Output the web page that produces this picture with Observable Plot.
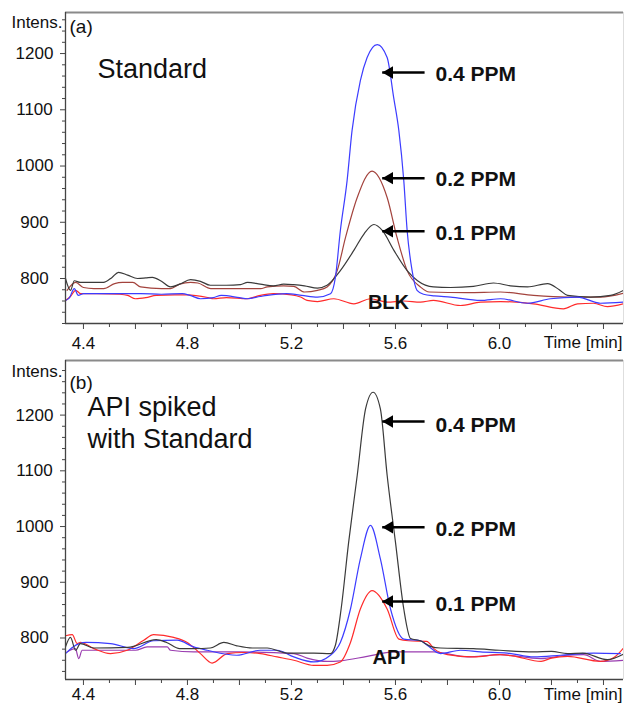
<!DOCTYPE html>
<html>
<head>
<meta charset="utf-8">
<script src="https://cdn.jsdelivr.net/npm/d3@7"></script>
<script src="https://cdn.jsdelivr.net/npm/@observablehq/plot@0.6"></script>
<style>
  html, body { margin: 0; padding: 0; background: #fff; }
  #chart { width: 625px; height: 705px; overflow: hidden; }
  #chart svg { display: block; }
</style>
</head>
<body>
<div id="chart"></div>
<script>
// ---------- Panel (a): Standard ----------
const a_t_blk = [4.331,4.35,4.37,4.39,4.45,4.54,4.57,4.60,4.64,4.68,4.75,4.80,4.88,4.90,4.95,5.03,5.08,5.13,5.20,5.235,5.26,5.30,5.363,5.44,5.504,5.568,5.632,5.696,5.746,5.85,5.927,6.004,6.131,6.246,6.30,6.362,6.415,6.477];
const a_v_blk = [761,768,779,773,773,772,770,764,766,770,771,771,766,764,766,764,770,773,771,767,761,759,764,755,764,758,760,758,761,752,758,759,755,746,755,756,750,755];

const a_t_01 = [4.331,4.35,4.365,4.388,4.438,4.477,4.51,4.535,4.57,4.608,4.64,4.665,4.70,4.735,4.77,4.812,4.85,4.888,4.95,5.004,5.031,5.08,5.131,5.17,5.208,5.25,5.30,5.337,5.388,5.44,5.48,5.517,5.55,5.594,5.645,5.685,5.746,5.812,5.9,5.977,6.042,6.108,6.185,6.23,6.262,6.35,6.427,6.477];
const a_v_01 = [800,779,796,793,793,793,802,811,806,800,801,802,795,785,790,798,795,788,788,789,793,790,787,790,789,787,783,788,814,850,880,896,885,850,814,796,785,784,786,792,787,785,791,780,770,767,770,779];

const a_t_02 = [4.337,4.37,4.40,4.44,4.478,4.52,4.55,4.59,4.62,4.70,4.735,4.77,4.812,4.84,4.89,5.004,5.081,5.107,5.17,5.209,5.25,5.30,5.337,5.376,5.408,5.453,5.51,5.568,5.606,5.645,5.696,5.73,5.877,6.004,6.131,6.262,6.388,6.477];
const a_v_02 = [779,793,784,782,782,791,793,793,785,782,782,790,793,792,782,782,782,785,787,786,776,779,785,814,873,944,991,944,873,814,785,776,775,776,770,767,767,774];

const a_t_04 = [4.331,4.345,4.365,4.38,4.40,4.45,4.55,4.62,4.70,4.78,4.81,4.85,4.90,4.93,5.00,5.03,5.08,5.107,5.18,5.24,5.30,5.35,5.369,5.388,5.414,5.433,5.465,5.491,5.53,5.568,5.593,5.613,5.632,5.645,5.664,5.683,5.708,5.75,5.812,5.927,6.004,6.108,6.196,6.3,6.388,6.477];
const a_v_04 = [761,765,782,770,773,773,773,773,772,773,770,764,766,770,766,764,768,770,773,770,767,773,802,885,974,1063,1152,1193,1216,1193,1122,1063,974,885,814,779,772,769,767,761,764,756,764,767,756,758];

// ---------- Panel (b): API spiked with Standard ----------
const b_t_api = [4.337,4.369,4.382,4.395,4.45,4.6,4.645,4.722,4.735,4.824,5.0,5.209,5.26,5.337,5.388,5.491,5.593,5.747,5.876,6.004,6.158,6.26,6.324,6.388,6.477];
const b_v_api = [775,781,763,778,778,778,784,784,778,775,775,772,764,758,759,767,775,775,766,770,763,769,770,758,760];

const b_t_01 = [4.331,4.357,4.376,4.388,4.44,4.504,4.568,4.632,4.67,4.747,4.799,4.85,4.895,4.953,5.017,5.081,5.145,5.209,5.286,5.337,5.388,5.427,5.465,5.51,5.568,5.613,5.65,5.72,5.75,5.8,5.9,6.0,6.05,6.16,6.2,6.262,6.388,6.44,6.477];
const b_v_01 = [804,806,790,792,781,772,778,796,806,801,792,772,755,772,774,772,766,760,751,751,757,792,852,885,852,798,795,794,780,770,766,770,768,758,764,767,758,765,782];

const b_t_02 = [4.331,4.36,4.41,4.504,4.593,4.67,4.76,4.824,4.876,4.99,5.081,5.145,5.209,5.286,5.35,5.388,5.427,5.465,5.504,5.542,5.581,5.632,5.696,5.722,5.773,5.85,5.927,6.03,6.132,6.235,6.363,6.465];
const b_v_02 = [772,784,792,790,781,795,796,784,778,769,778,778,766,757,769,792,852,942,1002,942,852,798,795,787,772,778,775,773,766,769,773,772];

const b_t_04 = [4.331,4.35,4.37,4.388,4.44,4.57,4.68,4.72,4.77,4.824,4.888,4.94,4.99,5.05,5.107,5.183,5.286,5.35,5.369,5.391,5.42,5.453,5.485,5.514,5.542,5.568,5.60,5.632,5.658,5.696,5.735,5.773,5.9,6.0,6.131,6.2,6.262,6.32,6.415,6.477];
const b_v_04 = [784,801,778,790,782,783,797,792,781,781,782,792,786,782,782,773,773,772,787,852,972,1092,1211,1241,1211,1092,972,852,799,795,785,782,781,778,775,776,772,773,761,771];

// ---------- Annotation labels ----------
const a_lblText = ["0.4 PPM", "0.2 PPM", "0.1 PPM"];
const a_lblT    = [5.754, 5.754, 5.754];
const a_lblV    = [1162.7, 976, 880.9];
const a_arrowV  = [1166.3, 978.4, 884.1];
const b_lblText = ["0.4 PPM", "0.2 PPM", "0.1 PPM"];
const b_lblT    = [5.754, 5.754, 5.754];
const b_lblV    = [1181.4, 994.7, 860.5];
const b_arrowV  = [1188.5, 998.8, 865.5];
const arrowTipT  = 5.549;
const arrowTailT = 5.712;
const a_blank = {text: "BLK", t: 5.573, v: 757.3};
const b_blank = {text: "API", t: 5.576, v: 765.5};

// ---------- Axes ----------
const xDomain = [4.331, 6.477];
const xLabelTicks = [4.4, 4.8, 5.2, 5.6, 6.0];
const xMajorTicks = [4.4, 4.6, 4.8, 5.0, 5.2, 5.4, 5.6, 5.8, 6.0, 6.2, 6.4];
const xMinorTicks = [4.5, 4.7, 4.9, 5.1, 5.3, 5.5, 5.7, 5.9, 6.1, 6.3];
const yLabelTicks = [800, 900, 1000, 1100, 1200];
const a_yDomain = [720, 1273];
const b_yDomain = [725.5, 1298];

const colors = {blk: "#ff2b2b", p01: "#3a3a3a", p02: "#a3433d", p04: "#3c3cff", api: "#9a3db0",
                b01: "#ff2b2b", b02: "#3c3cff", b04: "#3a3a3a"};
const FONT = "Arial, 'Liberation Sans', Helvetica, sans-serif";

function rows(ts, vs) { return ts.map((t, i) => ({t, v: vs[i]})); }

function panel(cfg) {
  const yMinor = d3.range(Math.ceil(cfg.yDomain[0] / 20) * 20, cfg.yDomain[1], 20).filter(v => v % 100 !== 0);
  const lbls = cfg.lblText.map((s, i) => ({s, t: cfg.lblT[i], v: cfg.lblV[i]}));
  const arrows = cfg.arrowV.map(v => ({v, tip: arrowTipT, tail: arrowTailT}));
  const marks = [
    Plot.ruleY([cfg.yDomain[1]], {stroke: "#8a8a8a", strokeWidth: 2}),
    Plot.ruleX([xDomain[1]], {stroke: "#dedede", strokeWidth: 1}),
    ...cfg.series.map(s => Plot.line(rows(s.t, s.v), {x: "t", y: "v", stroke: s.color, strokeWidth: 1.2, curve: "monotone-x", clip: true})),
    Plot.ruleX([xDomain[0]], {stroke: "#444", strokeWidth: 1.3}),
    Plot.ruleY([cfg.yDomain[0]], {stroke: "#444", strokeWidth: 1.3}),
    Plot.axisY(yLabelTicks, {tickSize: 5, fill: "none", stroke: "#444", label: null}),
    Plot.axisY(yMinor, {tickSize: 3, fill: "none", stroke: "#444", label: null}),
    Plot.axisY(yLabelTicks, {tickSize: 0, tickPadding: 31, textAnchor: "middle", fontSize: 17, fill: "#111", label: null, tickFormat: d => String(d)}),
    Plot.axisX(xMajorTicks, {tickSize: 6, fill: "none", stroke: "#444", label: null}),
    Plot.axisX(xMinorTicks, {tickSize: 4, fill: "none", stroke: "#444", label: null}),
    Plot.axisX(xLabelTicks, {tickSize: 0, tickPadding: cfg.xPad, fontSize: 17, fill: "#111", label: null, tickFormat: d3.format(".1f")}),
    Plot.text(["Time [min]"], {text: d => d, frameAnchor: "bottom-right", lineAnchor: "middle", textAnchor: "end", dx: -1, dy: cfg.timeDy, fontSize: 17, fill: "#111"}),
    Plot.text(["Intens."], {text: d => d, frameAnchor: "top-left", lineAnchor: "middle", textAnchor: "end", dx: -3, dy: cfg.intensDy, fontSize: 17, fill: "#111"}),
    Plot.text([cfg.tag], {text: d => d, frameAnchor: "top-left", lineAnchor: "middle", textAnchor: "start", dx: 4, dy: cfg.tagDy, fontSize: 19, fill: "#111"}),
    ...cfg.titles.map(tt => Plot.text([tt.s], {text: d => d, frameAnchor: "top-left", lineAnchor: "middle", textAnchor: "start", dx: tt.dx, dy: tt.dy, fontSize: 27, fill: "#111"})),
    Plot.link(arrows, {x1: "tail", x2: "tip", y1: "v", y2: "v", stroke: "#000", strokeWidth: 2.6}),
    Plot.dot(arrows, {x: "tip", y: "v", symbol: "triangle", r: 4.6, rotate: -90, dx: 7.2, fill: "#000", stroke: "none"}),
    Plot.text(lbls, {x: "t", y: "v", text: "s", textAnchor: "start", fontWeight: "bold", fontSize: 21, fill: "#111"}),
    Plot.text([cfg.blank], {x: "t", y: "v", text: "text", textAnchor: "middle", fontWeight: "bold", fontSize: 20, fill: "#111"})
  ];
  return Plot.plot({
    width: 625,
    height: cfg.height,
    marginLeft: 65,
    marginRight: 2,
    marginTop: cfg.marginTop,
    marginBottom: cfg.marginBottom,
    x: {domain: xDomain, label: null},
    y: {domain: cfg.yDomain, label: null},
    style: {fontFamily: FONT, background: "#fff", color: "#222", overflow: "visible"},
    marks
  });
}

const chart = document.getElementById("chart");
chart.appendChild(panel({
  height: 352, marginTop: 12, marginBottom: 29, yDomain: a_yDomain,
  series: [
    {t: a_t_blk, v: a_v_blk, color: colors.blk},
    {t: a_t_02, v: a_v_02, color: colors.p02},
    {t: a_t_01, v: a_v_01, color: colors.p01},
    {t: a_t_04, v: a_v_04, color: colors.p04}
  ],
  lblText: a_lblText, lblT: a_lblT, lblV: a_lblV, arrowV: a_arrowV,
  blank: a_blank, tag: "(a)", tagDy: 14.5, intensDy: 10.5, timeDy: 19, xPad: 13,
  titles: [{s: "Standard", dx: 32, dy: 56.5}]
}));
chart.appendChild(panel({
  height: 353, marginTop: 8, marginBottom: 26, yDomain: b_yDomain,
  series: [
    {t: b_t_api, v: b_v_api, color: colors.api},
    {t: b_t_01, v: b_v_01, color: colors.b01},
    {t: b_t_02, v: b_v_02, color: colors.b02},
    {t: b_t_04, v: b_v_04, color: colors.b04}
  ],
  lblText: b_lblText, lblT: b_lblT, lblV: b_lblV, arrowV: b_arrowV,
  blank: b_blank, tag: "(b)", tagDy: 22.5, intensDy: 11.5, timeDy: 15, xPad: 8,
  titles: [{s: "API spiked", dx: 22, dy: 47}, {s: "with Standard", dx: 22, dy: 78.5}]
}));
</script>
</body>
</html>
